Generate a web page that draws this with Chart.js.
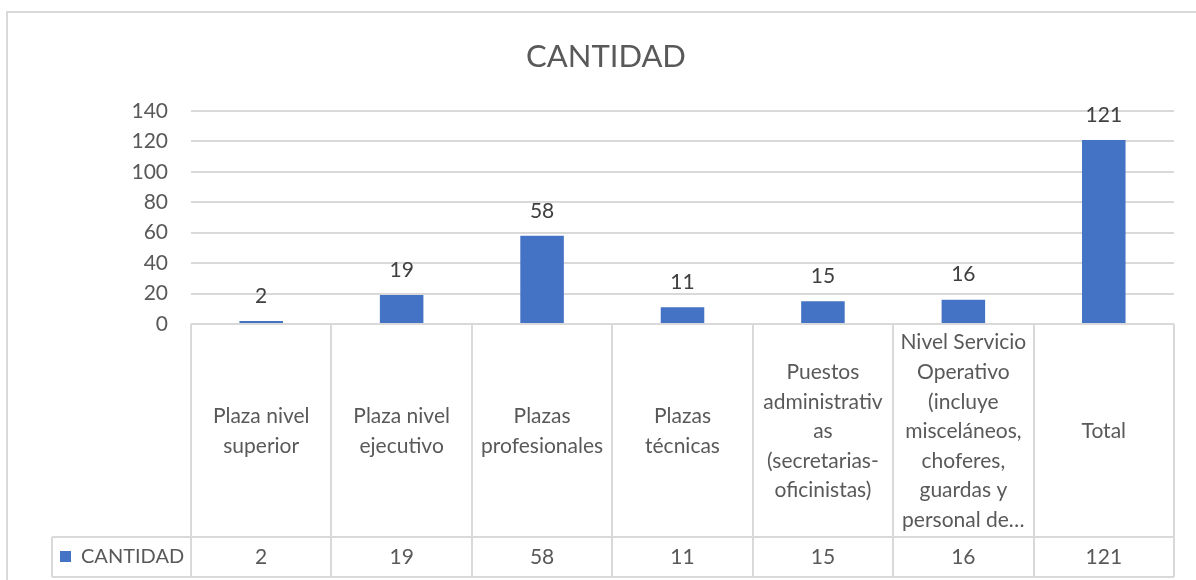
<!DOCTYPE html>
<html>
<head>
<meta charset="utf-8">
<script src="https://cdn.jsdelivr.net/npm/chart.js@4"></script>
<style>
  html, body { margin: 0; padding: 0; background: #fff; }
  #wrap { width: 1196px; height: 580px; position: relative; }
</style>
</head>
<body>
<div id="wrap"><canvas id="chart"></canvas></div>
<script>
const categories = [
    ['Plaza nivel', 'superior'],
    ['Plaza nivel', 'ejecutivo'],
    ['Plazas', 'profesionales'],
    ['Plazas', 'técnicas'],
    ['Puestos', 'administrativ', 'as', '(secretarias-', 'oficinistas)'],
    ['Nivel Servicio', 'Operativo', '(incluye', 'misceláneos,', 'choferes,', 'guardas y', 'personal de…'],
    ['Total'],
];
const cantidad = [2, 19, 58, 11, 15, 16, 121];
const seriesName = 'CANTIDAD';
const yTicks = [0, 20, 40, 60, 80, 100, 120, 140];

const FONT = 'Lato, "Liberation Sans", sans-serif';
const TEXT = '#595959';
const LINE = '#d9d9d9';
const BLUE = '#4472c4';

// frame, title, value labels and the data table under the axis
const excelBits = {
    id: 'excelBits',
    beforeDraw(chart) {
        const ctx = chart.ctx;
        ctx.save();
        ctx.strokeStyle = LINE;
        ctx.lineWidth = 2;
        ctx.strokeRect(7, 12, 1210, 600);
        ctx.restore();
    },
    afterDraw(chart) {
        const ctx = chart.ctx;
        const x = chart.scales.x, y = chart.scales.y;
        const area = chart.chartArea;
        const meta = chart.getDatasetMeta(0);
        ctx.save();

        // title
        ctx.fillStyle = TEXT;
        ctx.font = '31px ' + FONT;
        ctx.textAlign = 'center';
        ctx.textBaseline = 'middle';
        ctx.fillText(seriesName, 606, 57);

        // value labels
        ctx.fillStyle = '#404040';
        ctx.font = '21px ' + FONT;
        meta.data.forEach((bar, i) => {
            ctx.fillText(String(cantidad[i]), bar.x, bar.y - 25);
        });

        // table
        const step = x.getPixelForTick(1) - x.getPixelForTick(0);
        const top = y.getPixelForValue(0);
        const rowSplit = top + 213;
        const bottom = rowSplit + 40;
        const legendLeft = 52;
        ctx.strokeStyle = LINE;
        ctx.lineWidth = 2;
        ctx.beginPath();
        for (let i = 0; i <= categories.length; i++) {
            const px = Math.round(x.getPixelForTick(0) - step / 2 + i * step);
            ctx.moveTo(px, top);
            ctx.lineTo(px, bottom);
        }
        ctx.moveTo(area.left, top); ctx.lineTo(area.right, top);
        ctx.moveTo(legendLeft, rowSplit); ctx.lineTo(area.right, rowSplit);
        ctx.moveTo(legendLeft, bottom); ctx.lineTo(area.right, bottom);
        ctx.moveTo(legendLeft, rowSplit); ctx.lineTo(legendLeft, bottom);
        ctx.stroke();

        ctx.fillStyle = TEXT;
        ctx.font = '21px ' + FONT;
        ctx.textBaseline = 'middle';
        const lh = 29.6;
        const midHead = (top + rowSplit) / 2 + 1;
        categories.forEach((lines, i) => {
            const cx = x.getPixelForTick(i);
            const y0 = midHead - (lines.length - 1) * lh / 2;
            lines.forEach((t, k) => ctx.fillText(t, cx, y0 + k * lh));
            ctx.fillText(String(cantidad[i]), cx, (rowSplit + bottom) / 2);
        });

        // legend key in table
        ctx.fillStyle = BLUE;
        ctx.fillRect(60, (rowSplit + bottom) / 2 - 6, 11, 11);
        ctx.fillStyle = TEXT;
        ctx.font = '20px ' + FONT;
        ctx.textAlign = 'left';
        ctx.fillText(seriesName, 81, (rowSplit + bottom) / 2);
        ctx.restore();
    }
};

new Chart(document.getElementById('chart'), {
    type: 'bar',
    data: {
        labels: categories,
        datasets: [{
            label: seriesName,
            data: cantidad,
            backgroundColor: BLUE,
            barPercentage: 0.62,
            categoryPercentage: 0.5,
        }]
    },
    options: {
        responsive: true,
        maintainAspectRatio: false,
        animation: false,
        layout: { padding: { top: 111, right: 22, bottom: 256, left: 0 } },
        plugins: {
            legend: { display: false },
            tooltip: { enabled: false },
        },
        scales: {
            x: { display: false },
            y: {
                min: 0,
                max: 140,
                afterBuildTicks: s => { s.ticks = yTicks.map(v => ({ value: v })); },
                afterFit: s => { s.width = 191; },
                border: { display: false },
                grid: { color: LINE, lineWidth: 2, drawTicks: false },
                ticks: {
                    color: TEXT,
                    padding: 23,
                    font: { family: FONT, size: 21 },
                },
            }
        }
    },
    plugins: [excelBits]
});
</script>
</body>
</html>
